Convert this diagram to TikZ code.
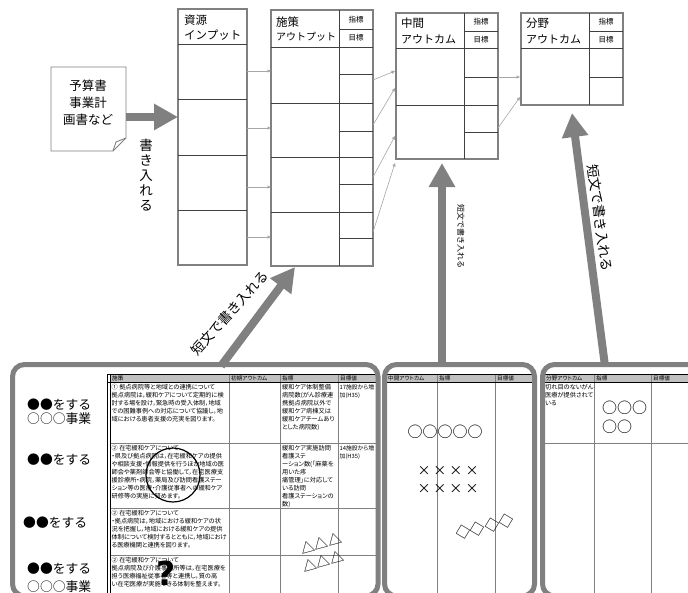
\documentclass[tikz,border=0pt]{standalone}
\usepackage{fontspec}
\setmainfont{Noto Sans CJK JP}
\newfontfamily\tblfont{Noto Sans CJK JP}[RawFeature=+palt]
\newfontfamily\qfont{DejaVu Sans}
\usetikzlibrary{arrows.meta}
\definecolor{bord}{HTML}{808080}
\definecolor{hdr}{HTML}{C0C0C0}
\definecolor{thin}{HTML}{A6A6A6}
\newcommand\myfs[2]{\fontsize{#1}{#2}\selectfont}
\tikzset{
  boxline/.style={draw=bord, line width=1.1pt, inner sep=0pt, outer sep=0pt, anchor=north west},
  inline/.style={draw=black!75, line width=0.7pt},
  thinarr/.style={draw=thin, line width=0.6pt, -{Triangle[length=3.5pt,width=3pt]}},
  bigarr/.style={draw=bord, line width=8pt, -{Triangle[length=24pt,width=25pt]}},
  panel/.style={draw=bord, line width=5pt, rounded corners=12pt, inner sep=0pt, outer sep=0pt, anchor=north west},
  tgrid/.style={draw=bord, line width=0.8pt},
  tblack/.style={draw=black, line width=0.8pt},
  hdtxt/.style={font=\myfs{11.5}{12}, anchor=west, inner sep=0pt},
  smtxt/.style={font=\myfs{7.5}{8}, inner sep=0pt},
  thtxt/.style={font=\tblfont\myfs{5.6}{6}, anchor=west, inner sep=0pt},
  celltxt/.style={font=\tblfont\myfs{6.2}{8}, anchor=north west, inner sep=0pt, align=left},
  lbl/.style={font=\myfs{12.8}{14}, anchor=west, inner sep=0pt, align=left},
  sym/.style={font=\myfs{15}{15}, inner sep=0pt},
}
\begin{document}
\begin{tikzpicture}[x=1pt,y=-1pt]
\useasboundingbox (0,0) rectangle (688,592);
\fill[white] (0,0) rectangle (688,592);
\clip (0,0) rectangle (688,592);

% ---------- input box
\node[boxline, minimum width=69pt, minimum height=256pt] (inp) at (178,9) {};
\draw[inline] (178,44) -- (247,44) (178,99) -- (247,99) (178,155) -- (247,155) (178,210) -- (247,210);
\node[hdtxt] (inpT1) at (184,20) {資源};
\node[hdtxt] (inpT2) at (184,35) {インプット};

% ---------- output box
\node[boxline, minimum width=102pt, minimum height=256pt] (out) at (271,10) {};
\draw[inline] (339,10) -- (339,266) (339,29) -- (373,29) (271,47) -- (373,47)
  (271,103) -- (373,103) (271,157) -- (373,157) (271,212) -- (373,212)
  (339,74) -- (373,74) (339,131) -- (373,131) (339,184) -- (373,184) (339,238) -- (373,238);
\node[hdtxt] (outT1) at (276,22) {施策};
\node[hdtxt, font=\myfs{10}{10}] (outT2) at (276,37) {アウトプット};
\node[smtxt] (outI) at (356,20) {指標};
\node[smtxt] (outG) at (356,38) {目標};

% ---------- intermediate outcome box
\node[boxline, minimum width=102pt, minimum height=146pt] (mid) at (396,13) {};
\draw[inline] (464,13) -- (464,159) (464,31) -- (498,31) (396,48) -- (498,48)
  (396,105) -- (498,105) (464,77) -- (498,77) (464,132) -- (498,132);
\node[hdtxt] (midT1) at (401,23) {中間};
\node[hdtxt, font=\myfs{11}{11}] (midT2) at (401,39) {アウトカム};
\node[smtxt] (midI) at (481,22) {指標};
\node[smtxt] (midG) at (481,40) {目標};

% ---------- field outcome box
\node[boxline, minimum width=102pt, minimum height=92pt] (fld) at (521,13) {};
\draw[inline] (589,13) -- (589,105) (589,31) -- (623,31) (521,48) -- (623,48) (589,77) -- (623,77);
\node[hdtxt] (fldT1) at (526,23) {分野};
\node[hdtxt, font=\myfs{11}{11}] (fldT2) at (526,39) {アウトカム};
\node[smtxt] (fldI) at (606,22) {指標};
\node[smtxt] (fldG) at (606,40) {目標};

% ---------- thin connectors
\coordinate (a1) at (247,71);  \coordinate (b1) at (271,71);
\coordinate (a2) at (247,128); \coordinate (b2) at (271,128);
\coordinate (a3) at (247,187); \coordinate (b3) at (271,187);
\coordinate (a4) at (247,237); \coordinate (b4) at (271,237);
\draw[thinarr] (a1) -- (b1);
\draw[thinarr] (a2) -- (b2);
\draw[thinarr] (a3) -- (b3);
\draw[thinarr] (a4) -- (b4);
\coordinate (c1) at (373,80);  \coordinate (d1) at (395,71);
\coordinate (c2) at (373,125); \coordinate (d2) at (395,88);
\coordinate (c3) at (373,177); \coordinate (d3) at (395,136);
\coordinate (c4) at (373,232); \coordinate (d4) at (395,163);
\draw[thinarr] (c1) -- (d1);
\draw[thinarr] (c2) -- (d2);
\draw[thinarr] (c3) -- (d3);
\draw[thinarr] (c4) -- (d4);
\coordinate (e1) at (498,77);  \coordinate (f1) at (520,77);
\coordinate (e2) at (498,128); \coordinate (f2) at (520,97);
\draw[thinarr] (e1) -- (f1);
\draw[thinarr] (e2) -- (f2);

% ---------- document
\draw[draw=bord, fill=white, line width=0.9pt] (51,67) -- (126,67) -- (126,138) -- (113,151) -- (51,151) -- cycle;
\draw[draw=bord, line width=0.9pt] (113,151) -- (116,142) -- (126,138);
\node[align=center, font=\myfs{12.5}{17}, inner sep=0pt] (doc) at (88,103) {予算書\\事業計\\画書など};
\coordinate (docE) at (126,117);
\coordinate (inpW) at (178,117);
\draw[bigarr] (docE) -- (inpW);
\node[align=center, font=\myfs{13.5}{15}, inner sep=0pt] (kaki) at (146,175) {書\\き\\入\\れ\\る};

% ---------- big arrows from the panels
\coordinate (g0) at (221,366); \coordinate (g1) at (295,267);
\draw[bigarr] (g0) -- (g1);
\node[rotate=48, font=\myfs{13.5}{14}, inner sep=0pt] (gtxt) at (230,313) {短文で書き入れる};
\coordinate (h0) at (442,366); \coordinate (h1) at (442,163);
\draw[bigarr] (h0) -- (h1);
\node[rotate=-90, font=\myfs{8}{8}, inner sep=0pt] (htxt) at (461,236) {短文で書き入れる};
\coordinate (k0) at (605,366); \coordinate (k1) at (572,113);
\draw[bigarr] (k0) -- (k1);
\node[rotate=-82, font=\myfs{13.5}{14}, inner sep=0pt] (ktxt) at (600,218) {短文で書き入れる};

% ---------- left panel table
\fill[hdr] (110,374) rectangle (376,382);
\draw[tgrid] (229,374) -- (229,596) (280,374) -- (280,596) (338,374) -- (338,596)
  (110,443) -- (376,443) (110,508) -- (376,508) (110,555) -- (376,555);
\draw[tblack] (107,374) -- (376,374) (107,382) -- (376,382) (107,374) -- (107,596) (110,374) -- (110,596);
\node[thtxt] (thA1) at (112,378) {施策};
\node[thtxt] (thA2) at (231,378) {初期アウトカム};
\node[thtxt] (thA3) at (282,378) {指標};
\node[thtxt] (thA4) at (340,378) {目標値};
\node[celltxt] (r1c1) at (111.5,384) {① 拠点病院等と地域との連携について\\拠点病院は，緩和ケアについて定期的に検\\討する場を設け，緊急時の受入体制，地域\\での困難事例への対応について協議し，地\\域における患者支援の充実を図ります。};
\node[celltxt] (r1c3) at (282,384) {緩和ケア体制整備\\病院数(がん診療連\\携拠点病院以外で\\緩和ケア病棟又は\\緩和ケアチームあり\\とした病院数)};
\node[celltxt, font=\tblfont\myfs{5.8}{8}] (r1c4) at (339.5,384) {17施設から増\\加(H35)};
\node[celltxt] (r2c1) at (111.5,445) {② 在宅緩和ケアについて\\・県及び拠点病院は，在宅緩和ケアの提供\\や相談支援・情報提供を行うほか地域の医\\師会や薬剤師会等と協働して，在宅医療支\\援診療所・病院，薬局及び訪問看護ステー\\ション等の医療・介護従事者への緩和ケア\\研修等の実施に努めます。};
\node[celltxt] (r2c3) at (282,445) {緩和ケア実施訪問\\看護ステ\\ーション数(「麻薬を\\用いた疼\\痛管理」に対応して\\いる訪問\\看護ステーションの\\数)};
\node[celltxt, font=\tblfont\myfs{5.8}{8}] (r2c4) at (339.5,445) {14施設から増\\加(H35)};
\node[celltxt] (r3c1) at (111.5,510) {② 在宅緩和ケアについて\\・拠点病院は，地域における緩和ケアの状\\況を把握し，地域における緩和ケアの提供\\体制について検討するとともに，地域におけ\\る医療機関と連携を図ります。};
\node[celltxt] (r4c1) at (111.5,557) {② 在宅緩和ケアについて\\拠点病院及び介護事業所等は，在宅医療を\\担う医療福祉従事者等と連携し，質の高\\い在宅医療が実施できる体制を整えます。};

\node[lbl] (lb1) at (27,412) {●●をする\\○○○事業};
\node[lbl] (lb2) at (27,460) {●●をする};
\node[lbl] (lb3) at (23,523) {●●をする};
\node[lbl, font=\myfs{12.8}{18}] (lb4) at (27,578) {●●をする\\○○○事業};

\node[draw, circle, minimum size=54pt, line width=1.2pt, inner sep=0pt] (ring) at (173,475) {};
\node[font=\qfont\bfseries\myfs{33}{33}, inner sep=0pt] (qm) at (166,573) {?};
\node[sym, font=\myfs{14}{14}, rotate=15] (tri1) at (321,543) {△△△};
\node[sym, font=\myfs{14}{14}, rotate=15] (tri2) at (323,561) {△△△};

% ---------- middle panel table
\fill[hdr] (387,374) rectangle (532,382);
\draw[tgrid] (437,374) -- (437,596) (495,374) -- (495,596);
\draw[tblack] (387,374) -- (532,374) (387,382) -- (532,382);
\node[thtxt] (thB1) at (388,378) {中間アウトカム};
\node[thtxt] (thB2) at (439,378) {指標};
\node[thtxt] (thB3) at (497,378) {目標値};
\node[sym] (circ5) at (445,432) {○○○○○};
\node[font=\myfs{13}{13}, inner sep=0pt] (xx1) at (448,471) {×\hskip3pt×\hskip3pt×\hskip3pt×};
\node[font=\myfs{13}{13}, inner sep=0pt] (xx2) at (448,489) {×\hskip3pt×\hskip3pt×\hskip3pt×};
\node[sym, rotate=14] (dia) at (485,527) {◇◇◇◇};

% ---------- right panel table
\fill[hdr] (545,374) rectangle (688,382);
\draw[tgrid] (594,374) -- (594,596) (651,374) -- (651,596) (545,443) -- (688,443);
\draw[tblack] (545,374) -- (688,374) (545,382) -- (688,382);
\node[thtxt] (thC1) at (546,378) {分野アウトカム};
\node[thtxt] (thC2) at (596,378) {指標};
\node[thtxt] (thC3) at (653,378) {目標値};
\node[celltxt] (rc1) at (545,384) {切れ目のないがん\\医療が提供されて\\いる};
\node[sym, anchor=west] (circ3) at (602,408) {○○○};
\node[sym, anchor=west] (circ2) at (602,427) {○○};

% ---------- panels
\node[panel, minimum width=365.5pt, minimum height=231.5pt] (pL) at (12.5,364.5) {};
\node[panel, minimum width=150pt, minimum height=231.5pt] (pM) at (384.5,364.5) {};
\node[panel, minimum width=177.5pt, minimum height=231.5pt] (pR) at (542.5,364.5) {};
\end{tikzpicture}
\end{document}
